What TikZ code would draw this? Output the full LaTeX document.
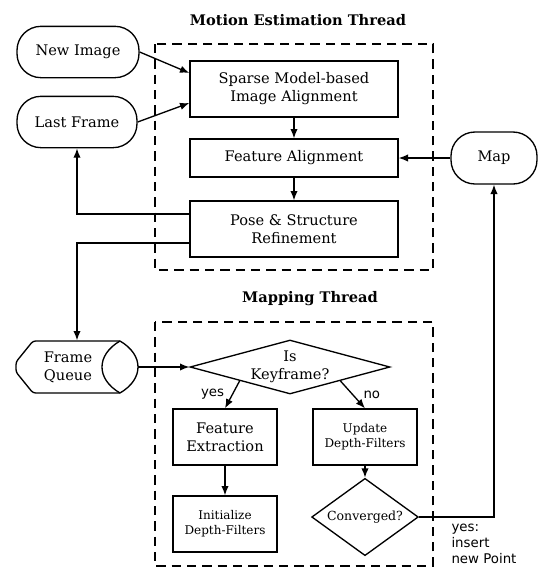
\documentclass[tikz,border=0pt,11pt]{standalone}
\usepackage{fontspec}
\setmainfont{DejaVu Serif}
\newfontfamily\lblfont{DejaVu Sans}
\usetikzlibrary{shapes.geometric,arrows.meta}

\begin{document}
\begin{tikzpicture}[x=0.75pt,y=-0.75pt,line width=1pt,>={Latex[length=7pt,width=5.5pt]},
	proc/.style={draw,rectangle,align=center,minimum width=156pt,minimum height=42pt,inner sep=1pt},
	term/.style={draw,rectangle,rounded corners=18pt,align=center,minimum height=38.5pt},
	decide/.style={draw,diamond,align=center,inner sep=0pt},
	thread/.style={draw,dash pattern=on 7pt off 4.5pt},
	ttl/.style={font=\bfseries},
	lbl/.style={font=\lblfont\small}]
\useasboundingbox (0,0) rectangle (551,583);
%thread frames
\path [thread] (155,44) rectangle (433,270);
\path [thread] (155,322) rectangle (433,566);
\node [ttl] (mettitle) at (298,20) {Motion Estimation Thread};
\node [ttl] (maptitle) at (310,299) {Mapping Thread};
%motion estimation
\node [term,minimum width=91.5pt] (newimg) at (78,52) {New Image};
\node [term,minimum width=90pt] (lastfr) at (77,122) {Last Frame};
\node [proc] (sparse) at (294,89) {Sparse Model-based\\Image Alignment};
\node [proc,minimum height=28.5pt] (featal) at (294,158) {Feature Alignment};
\node [proc] (pose) at (294,229) {Pose \& Structure\\Refinement};
\node [term,minimum width=64.5pt,minimum height=39pt] (map) at (494,158) {Map};
\draw [->] (newimg.east) -- ([yshift=12pt]sparse.west);
\draw [->] (lastfr.east) -- ([yshift=-10.5pt]sparse.west);
\draw [->] (sparse) -- (featal);
\draw [->] (featal) -- (pose);
\draw [->] (map) -- (featal);
\draw [->] ([yshift=11.25pt]pose.west) -| (lastfr.south);
%frame queue
\node [minimum width=92pt,minimum height=39pt] (queue) at (77,367) {};
\node [align=center] (qtext) at (68,367) {Frame\\Queue};
\draw [rounded corners=2pt] (120,341) -- (33,341) -- (16,362) -- (16,372) -- (33,393) -- (120,393);
\draw (120,341) .. controls (144,355) and (144,379) .. (120,393);
\draw (120,341) .. controls (96,355) and (96,379) .. (120,393);
\draw [->] ([yshift=-10.5pt]pose.west) -| (queue.north);
%mapping
\node [decide,minimum width=150pt,minimum height=40.5pt,aspect=3.7] (keyfr) at (290,367) {Is\\Keyframe?};
\node [proc,minimum width=78pt] (featex) at (225,437) {Feature\\Extraction};
\node [proc,minimum width=78pt,font=\footnotesize] (init) at (225,524) {Initialize\\Depth-Filters};
\node [proc,minimum width=78pt,font=\footnotesize] (update) at (365,437) {Update\\Depth-Filters};
\node [decide,minimum width=80pt,minimum height=58pt,aspect=1.4,font=\fontsize{9.4}{11}\selectfont] (conv) at (365,517) {Converged?};
\draw [->] (138,367) -- (keyfr.west);
\draw [->] (keyfr.south west) -- node[lbl,left=2pt,pos=0.5]{yes} (featex.north);
\draw [->] (keyfr.south east) -- node[lbl,right=4pt,pos=0.5]{no} (update.north);
\draw [->] (featex) -- (init);
\draw [->] (update) -- (conv);
\draw [->] (conv.east) -| (map.south);
\node [lbl,align=left,anchor=north west] (ins) at (446,518) {yes:\\insert\\new Point};
\end{tikzpicture}
\end{document}
